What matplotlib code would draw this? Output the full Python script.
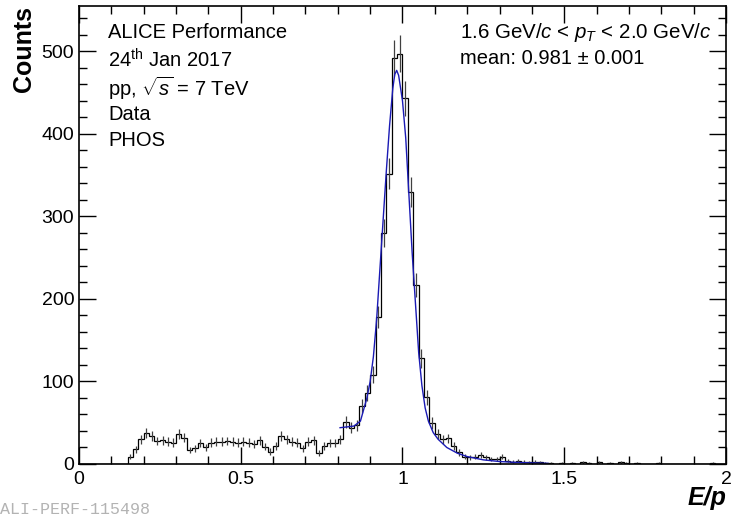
"""
E/p distribution for PHOS clusters matched to tracks, with peak fit.
"""
import numpy as np
import matplotlib
matplotlib.use('Agg')
import matplotlib.pyplot as plt
from matplotlib.ticker import MultipleLocator

# ==============================================================================
# Data
# ==============================================================================
N_BINS = 120
EP_MIN, EP_MAX = 0.0, 2.0

# counts per bin, bin width 1/60
counts = [
    0, 0, 0, 0, 0, 0, 0, 0, 0, 9,            # 0.00 - 0.167
    18, 30, 37, 34, 28, 29, 27, 26, 36, 32,  # 0.167 - 0.333
    17, 19, 25, 20, 26, 27, 27, 28, 27, 26,  # 0.333 - 0.50
    27, 26, 24, 29, 21, 15, 22, 34, 30, 27,  # 0.50 - 0.667
    26, 19, 27, 29, 13, 22, 25, 25, 30, 51,  # 0.667 - 0.833
    44, 47, 70, 86, 108, 178, 280, 352, 492, 497,  # 0.833 - 1.00
    443, 330, 217, 128, 81, 50, 36, 30, 31, 22,    # 1.00 - 1.167
    14, 9, 8, 9, 11, 8, 6, 6, 9, 4,          # 1.167 - 1.333
    3, 4, 3, 2, 3, 2, 1, 1, 0, 1,            # 1.333 - 1.50
    0, 1, 0, 2, 1, 0, 2, 0, 1, 0,            # 1.50 - 1.667
    2, 1, 0, 1, 0, 0, 0, 1, 0, 0,            # 1.667 - 1.833
    0, 0, 0, 0, 0, 0, 0, 1, 0, 0,            # 1.833 - 2.00
]

# fit curve, sampled from the figure
fit_x = [0.807, 0.83, 0.85, 0.87, 0.89, 0.90, 0.91, 0.92, 0.93, 0.94,
         0.95, 0.96, 0.97, 0.976, 0.982, 0.988, 0.99, 1.00, 1.01, 1.02,
         1.03, 1.04, 1.05, 1.06, 1.07, 1.08, 1.095, 1.11, 1.137, 1.17,
         1.20, 1.25, 1.30, 1.35, 1.40, 1.45]
fit_y = [44, 45, 46, 52, 80, 100, 130, 175, 235, 295,
         355, 410, 455, 472, 477, 471, 466, 440, 395, 325,
         255, 195, 135, 95, 68, 52, 38, 30, 20, 13,
         9, 5, 3, 2, 1.3, 0.8]

# ==============================================================================
# Plot
# ==============================================================================
plt.rcParams['font.family'] = ['Liberation Sans', 'DejaVu Sans']
plt.rcParams['mathtext.fontset'] = 'custom'
plt.rcParams['mathtext.rm'] = 'Liberation Sans'
plt.rcParams['mathtext.it'] = 'Liberation Sans:italic'
plt.rcParams['mathtext.bf'] = 'Liberation Sans:bold'

fig = plt.figure(figsize=(7.31, 5.19), dpi=100)
ax = fig.add_axes([79 / 731, 55 / 519, 647 / 731, 458 / 519])

counts = np.array(counts, dtype=float)
edges = np.linspace(EP_MIN, EP_MAX, N_BINS + 1)
centers = 0.5 * (edges[:-1] + edges[1:])

ax.stairs(counts, edges, color='black', linewidth=0.9)
nz = counts > 0
ax.errorbar(centers[nz], counts[nz], yerr=np.sqrt(counts[nz]), fmt='none',
            ecolor='0.25', elinewidth=0.9, capsize=0)
ax.plot(fit_x, fit_y, color='#1a1ab4', linewidth=1.0)

ax.set_xlim(EP_MIN, EP_MAX)
ax.set_ylim(0, 555)

ax.xaxis.set_major_locator(MultipleLocator(0.5))
ax.xaxis.set_minor_locator(MultipleLocator(0.1))
ax.yaxis.set_major_locator(MultipleLocator(100))
ax.yaxis.set_minor_locator(MultipleLocator(20))
ax.xaxis.set_major_formatter(plt.FuncFormatter(lambda v, p: '%g' % v))
ax.tick_params(which='both', direction='in', top=True, right=True,
               labelsize=14, width=1.0, colors='black')
ax.tick_params(which='major', length=12)
ax.tick_params(which='minor', length=6)
ax.tick_params(axis='x', pad=5)
for s in ax.spines.values():
    s.set_linewidth(1.2)

ax.set_ylabel('Counts', loc='top', fontsize=18, fontweight='bold')
ax.yaxis.set_label_coords(-0.066, 1.0)
ax.set_xlabel('E/p', loc='right', fontsize=18, fontweight='bold', fontstyle='italic')
ax.xaxis.set_label_coords(1.0, -0.048)

left_lines = ['ALICE Performance', r'24$^{\rm th}$ Jan 2017',
              r'pp, $\sqrt{s}$ = 7 TeV', 'Data', 'PHOS']
left_y = [33, 60, 88, 114, 140]
for txt, yp in zip(left_lines, left_y):
    fig.text(108 / 731, 1 - yp / 519, txt, fontsize=14.5, va='center', ha='left')

fig.text(460 / 731, 1 - 33 / 519,
         r'1.6 GeV/$c$ < $p_{T}$ < 2.0 GeV/$c$', fontsize=14.8, va='center', ha='left')
fig.text(460 / 731, 1 - 58 / 519, 'mean: 0.981 \u00b1 0.001', fontsize=14.5,
         va='center', ha='left')

fig.text(0, 1 - 509 / 519, 'ALI-PERF-115498', fontsize=12, color='0.7',
         family='Liberation Mono', va='center', ha='left')

fig.savefig('out.png', dpi=100)
